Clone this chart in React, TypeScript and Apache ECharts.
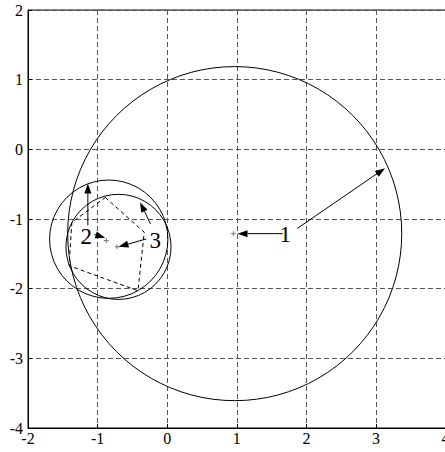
import React, { useEffect, useRef } from "react";
import * as echarts from "echarts";

// circles: [cx, cy, r]
const circles = [
  [0.97, -1.21, 2.4],
  [-0.84, -1.29, 0.85],
  [-0.7, -1.4, 0.755],
];
// center markers
const centers = [
  [0.95, -1.21],
  [-0.875, -1.31],
  [-0.72, -1.4],
];
// dashed polygon (closed)
const polyX = [-0.89, -0.33, -0.42, -1.41, -1.37, -0.89];
const polyY = [-0.69, -1.19, -2.03, -1.67, -1.05, -0.69];
// arrows: [x1, y1, x2(tip), y2(tip)]
const arrows = [
  [1.66, -1.21, 1.01, -1.21],
  [1.87, -1.135, 3.13, -0.27],
  [-1.14, -1.09, -1.14, -0.49],
  [-1.05, -1.22, -0.89, -1.27],
  [-0.3, -1.286, -0.7, -1.4],
  [-0.24, -1.07, -0.39, -0.76],
];
const labelText = ["1", "2", "3"];
const labelX = [1.695, -1.164, -0.172];
const labelY = [-1.221, -1.25, -1.307];

export default function App() {
  const ref = useRef<HTMLDivElement>(null);
  useEffect(() => {
    if (!ref.current) return;
    const chart = echarts.init(ref.current, null, { renderer: "svg" });
    const serif = "Liberation Serif, DejaVu Serif, serif";
    chart.setOption({
      animation: false,
      textStyle: { fontFamily: serif },
      grid: {
        left: 28,
        top: 10,
        width: 417.6,
        height: 418,
        show: true,
        borderColor: "#000",
        borderWidth: 1,
      },
      xAxis: {
        type: "value",
        min: -2,
        max: 4,
        interval: 1,
        axisLine: { onZero: false, lineStyle: { color: "#000", width: 1 } },
        axisTick: { inside: true, length: 4, lineStyle: { color: "#000" } },
        axisLabel: { color: "#000", fontFamily: serif, fontSize: 16, margin: 2 },
        splitLine: { show: true, lineStyle: { color: "#555", type: [5, 3], width: 1 } },
      },
      yAxis: {
        type: "value",
        min: -4,
        max: 2,
        interval: 1,
        axisLine: { onZero: false, lineStyle: { color: "#000", width: 1 } },
        axisTick: { inside: true, length: 4, lineStyle: { color: "#000" } },
        axisLabel: { color: "#000", fontFamily: serif, fontSize: 16, margin: 5 },
        splitLine: { show: true, lineStyle: { color: "#555", type: [5, 3], width: 1 } },
      },
      series: [
        {
          type: "custom",
          data: circles,
          encode: { x: 0, y: 1 },
          renderItem: (params: any, api: any) => {
            const c = api.coord([api.value(0), api.value(1)]);
            const r = api.size([api.value(2), 0])[0];
            return {
              type: "circle",
              shape: { cx: c[0], cy: c[1], r },
              style: { fill: "none", stroke: "#000", lineWidth: 1 },
            };
          },
        },
        {
          type: "line",
          data: polyX.map((x, i) => [x, polyY[i]]),
          symbol: "none",
          lineStyle: { color: "#000", width: 1, type: [4, 3] },
        },
        {
          type: "custom",
          data: centers,
          encode: { x: 0, y: 1 },
          renderItem: (params: any, api: any) => {
            const c = api.coord([api.value(0), api.value(1)]);
            const s = 2.5;
            return {
              type: "group",
              children: [
                { type: "line", shape: { x1: c[0] - s, y1: c[1], x2: c[0] + s, y2: c[1] }, style: { stroke: "#777", lineWidth: 1 } },
                { type: "line", shape: { x1: c[0], y1: c[1] - s, x2: c[0], y2: c[1] + s }, style: { stroke: "#777", lineWidth: 1 } },
              ],
            };
          },
        },
        {
          type: "custom",
          data: arrows,
          encode: { x: [0, 2], y: [1, 3] },
          renderItem: (params: any, api: any) => {
            const p1 = api.coord([api.value(0), api.value(1)]);
            const p2 = api.coord([api.value(2), api.value(3)]);
            const dx = p2[0] - p1[0];
            const dy = p2[1] - p1[1];
            const len = Math.hypot(dx, dy) || 1;
            const ux = dx / len;
            const uy = dy / len;
            const L = 10;
            const W = 3.5;
            const bx = p2[0] - ux * L;
            const by = p2[1] - uy * L;
            return {
              type: "group",
              children: [
                { type: "line", shape: { x1: p1[0], y1: p1[1], x2: bx, y2: by }, style: { stroke: "#000", lineWidth: 1 } },
                {
                  type: "polygon",
                  shape: { points: [[p2[0], p2[1]], [bx - uy * W, by + ux * W], [bx + uy * W, by - ux * W]] },
                  style: { fill: "#000" },
                },
              ],
            };
          },
        },
        {
          type: "custom",
          data: labelText.map((t, i) => [labelX[i], labelY[i], t]),
          encode: { x: 0, y: 1 },
          renderItem: (params: any, api: any) => {
            const c = api.coord([api.value(0), api.value(1)]);
            return {
              type: "text",
              x: c[0],
              y: c[1],
              style: {
                text: labelText[params.dataIndex],
                fill: "#000",
                fontSize: 23,
                fontFamily: serif,
                align: "center",
                verticalAlign: "middle",
              },
            };
          },
        },
      ],
    });
    return () => chart.dispose();
  }, []);
  return (
    <div
      ref={ref}
      style={{ position: "absolute", left: 0, top: 0, width: 460, height: 452, background: "#fff" }}
    />
  );
}
